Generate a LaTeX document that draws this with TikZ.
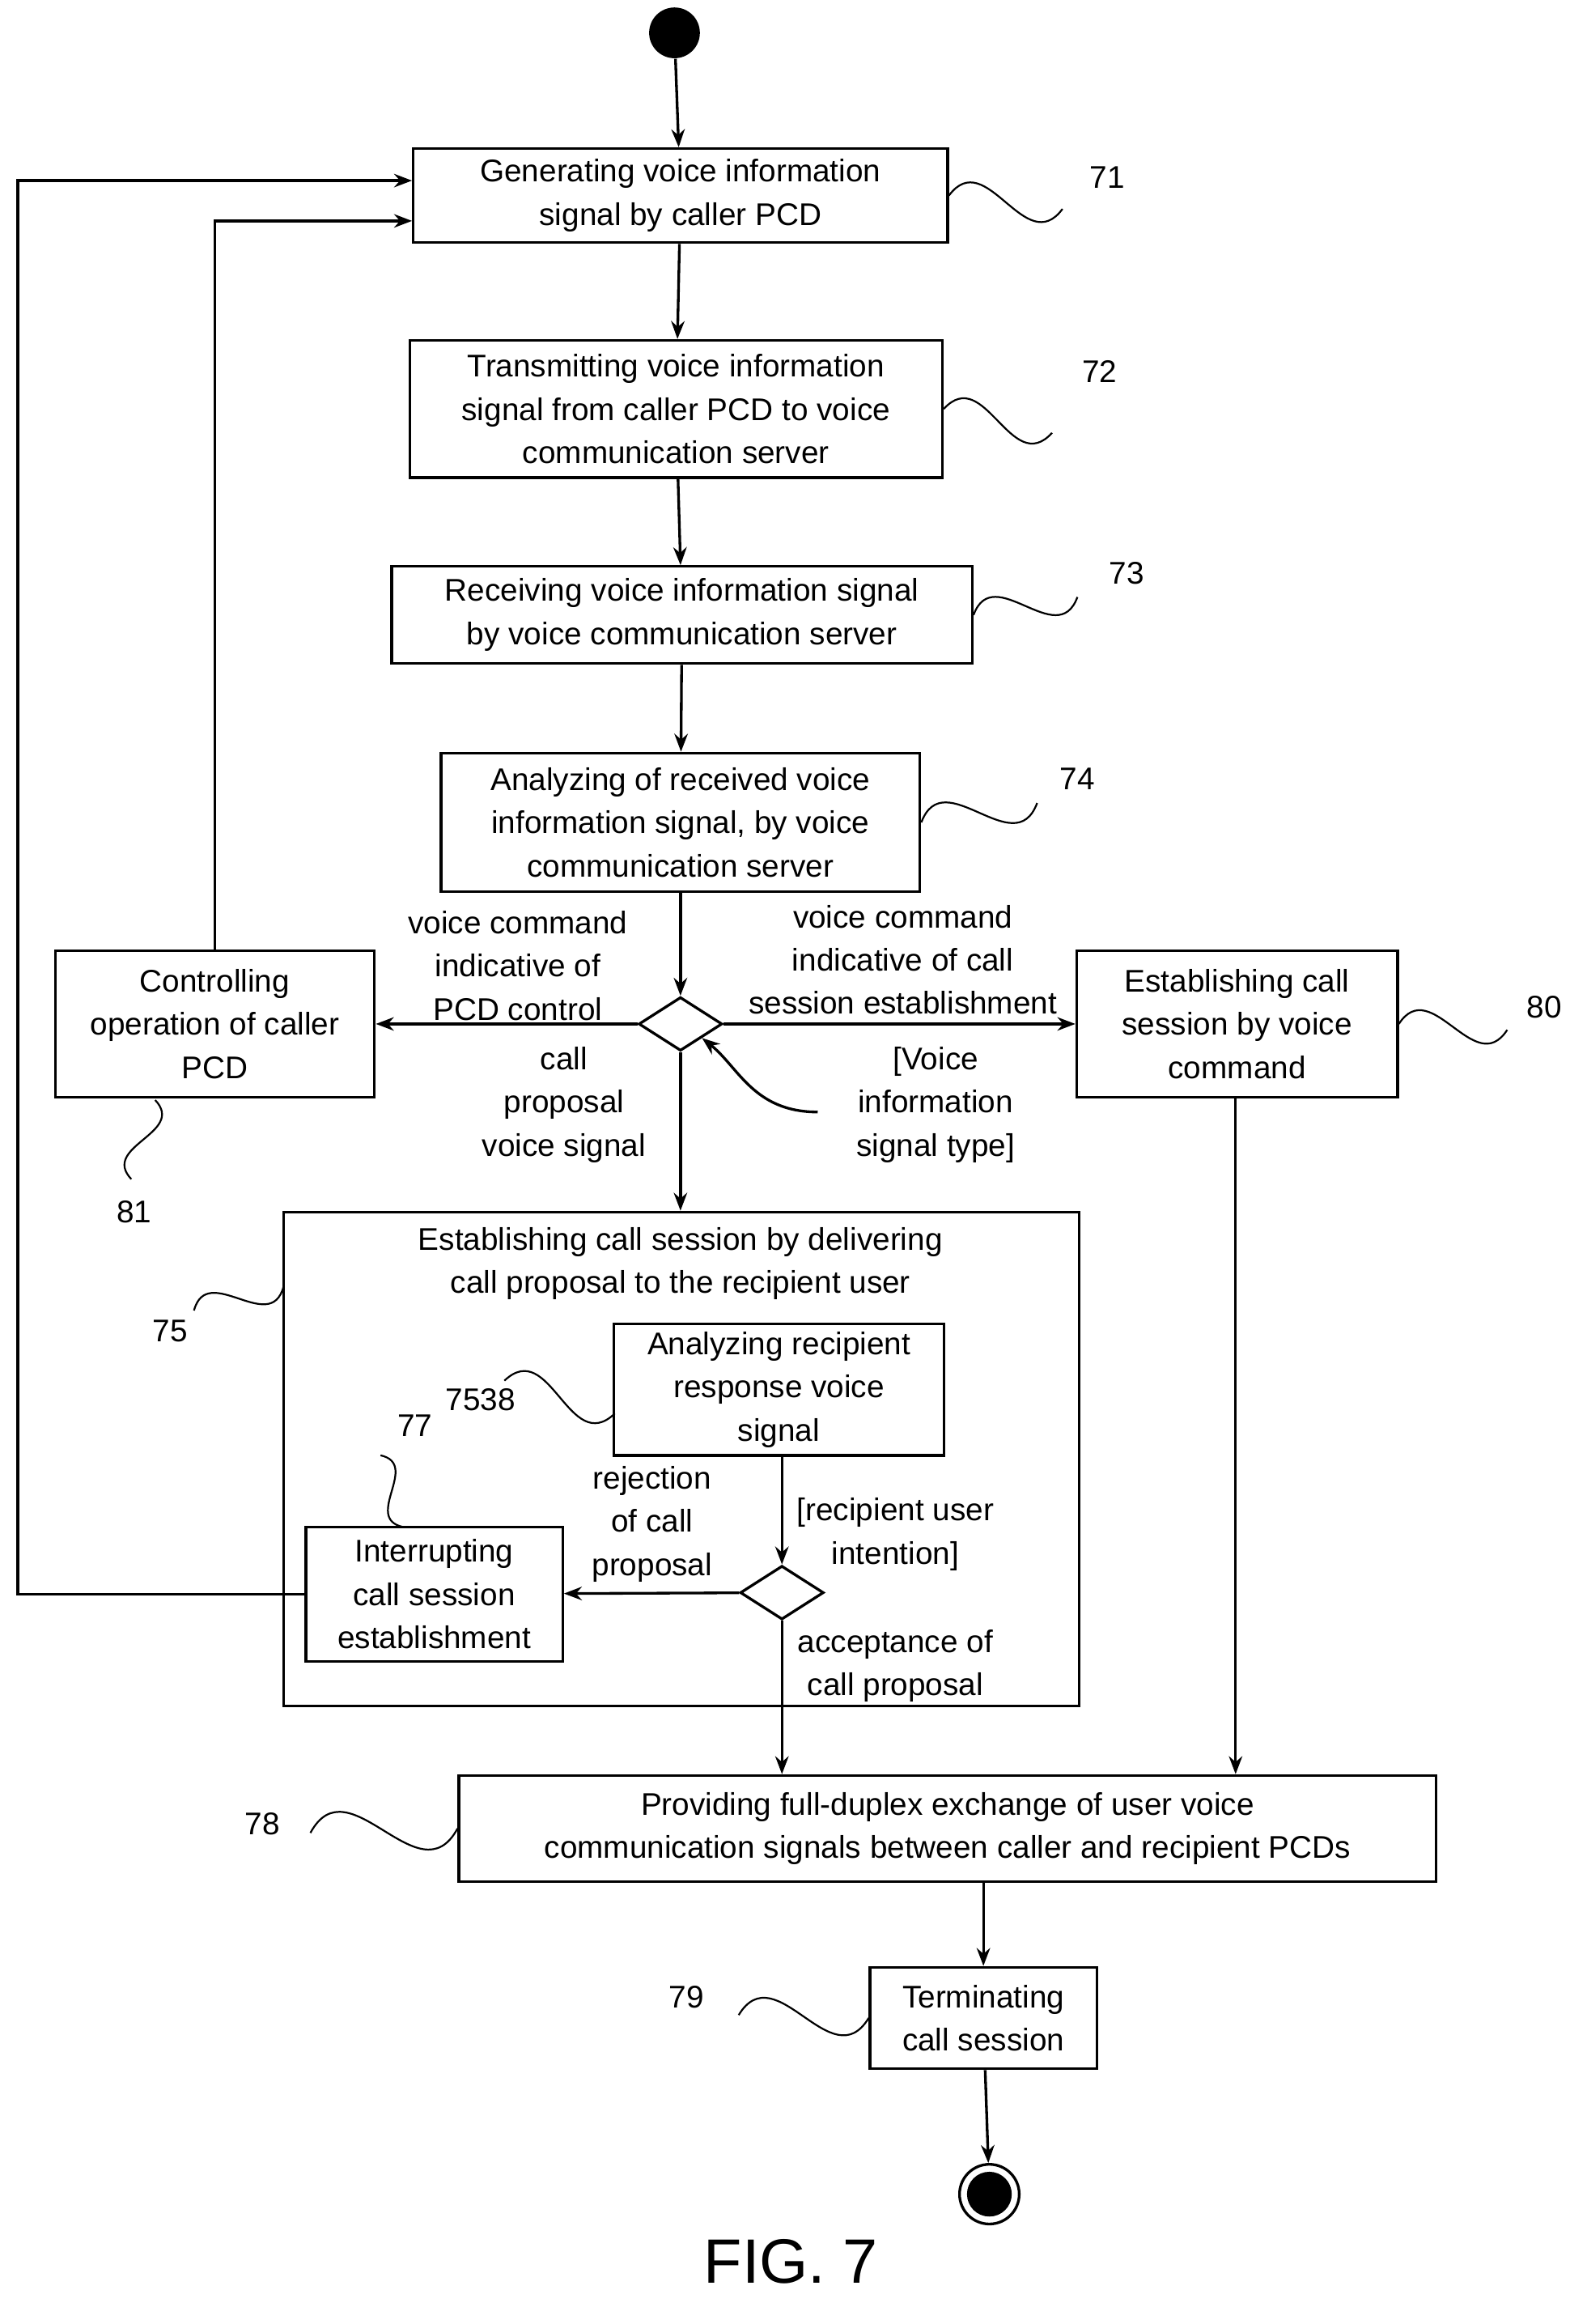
\documentclass[tikz,border=0pt]{standalone}
\usepackage{fontspec}
\setmainfont{Liberation Sans}
\usetikzlibrary{shapes.geometric,arrows.meta,calc}
\begin{document}
\begin{tikzpicture}[x=0.5pt,y=-0.5pt,
  font=\fontsize{10.5pt}{14.5pt}\selectfont,
  box/.style={draw,line width=0.9pt,align=center,inner sep=0pt},
  dia/.style={draw,line width=0.9pt,diamond,inner sep=0pt,minimum width=28pt,minimum height=18pt},
  arr/.style={line width=0.9pt,-{Stealth[length=6pt,width=4.5pt]}},
  ln/.style={line width=0.9pt},
  lab/.style={align=center,inner sep=0pt},
  sq/.style={line width=0.6pt}]
\useasboundingbox (0,0) rectangle (1052,1557);
\node[circle,fill=black,minimum size=17pt,inner sep=0pt] (start) at (452,22) {};
\node[box,minimum width=179pt,minimum height=31.5pt] (n71) at (456,131) {Generating voice information\\signal by caller PCD};
\node[box,minimum width=178.5pt,minimum height=46pt] (n72) at (453,274) {Transmitting voice information\\signal from caller PCD to voice\\communication server};
\node[box,minimum width=194.5pt,minimum height=32.5pt] (n73) at (457,412) {Receiving voice information signal\\by voice communication server};
\node[box,minimum width=160.5pt,minimum height=46.5pt] (n74) at (456,551) {Analyzing of received voice\\information signal, by voice\\communication server};
\node[dia] (d1) at (456,686) {};
\node[box,minimum width=107pt,minimum height=49pt] (n81) at (144,686) {Controlling\\operation of caller\\PCD};
\node[box,minimum width=107.5pt,minimum height=49pt] (n80) at (829,686) {Establishing call\\session by voice\\command};
\node[box,minimum width=266.5pt,minimum height=165.5pt] (n75) at (456.5,977.5) {};
\node[lab,anchor=north] (t75) at (456,822) {Establishing call session by delivering\\call proposal to the recipient user};
\node[box,minimum width=110.5pt,minimum height=44pt] (n7538) at (522,931) {Analyzing recipient\\response voice\\signal};
\node[dia] (d2) at (524,1067) {};
\node[box,minimum width=86pt,minimum height=45pt] (n77) at (291,1068) {Interrupting\\call session\\establishment};
\node[box,minimum width=327.5pt,minimum height=35.5pt] (n78) at (635,1225) {Providing full-duplex exchange of user voice\\communication signals between caller and recipient PCDs};
\node[box,minimum width=76pt,minimum height=34pt] (n79) at (659,1352) {Terminating\\call session};
\node[circle,draw,line width=0.9pt,minimum size=20pt,inner sep=0pt] (end) at (663,1470) {};
\node[circle,fill=black,minimum size=15pt,inner sep=0pt] at (end) {};
\node[lab,font=\fontsize{21pt}{24pt}\selectfont] (fig) at (530,1515) {FIG. 7};

\draw[arr] (start) -- (n71);
\draw[arr] (n71) -- (n72);
\draw[arr] (n72) -- (n73);
\draw[arr] (n73) -- (n74);
\draw[arr] (n74) -- (d1);
\draw[arr] (d1) -- (n81);
\draw[arr] (d1) -- (n80);
\draw[arr] (d1) -- (n75.north -| d1);
\draw[arr] (n81.north) |- ($(n71.west)+(0,17)$);
\draw[arr] (n77.west) -| (12,121) -- ($(n71.west)+(0,-10)$);
\draw[arr] (n7538.south -| d2) -- (d2);
\draw[arr] (d2) -- (n77);
\draw[arr] (d2) -- (n78.north -| d2);
\draw[arr] (n80.south -| 828,0) -- (n78.north -| 828,0);
\draw[arr] (n78.south -| n79) -- (n79);
\draw[arr] (n79) -- (end);

\node[lab] (l1) at (347,647) {voice command\\indicative of\\PCD control};
\node[lab] (l2) at (605,643) {voice command\\indicative of call\\session establishment};
\node[lab] (l3) at (378,740) {call\\proposal\\voice signal};
\node[lab] (l4) at (627,740) {[Voice\\information\\signal type]};
\coordinate (c4) at (548,745);
\draw[arr] (c4) .. controls (505,745) and (495,715) .. (d1.south east);
\node[lab] (l5) at (600,1028) {[recipient user\\intention]};
\node[lab] (l6) at (437,1021) {rejection\\of call\\proposal};
\node[lab] (l7) at (600,1116) {acceptance of\\call proposal};

\newcommand{\squig}[2]{\draw[sq] (#1) .. controls ($(#1)!0.55!60:(#2)$) and ($(#2)!0.55!60:(#1)$) .. (#2);}
\node[lab] (r71) at (742,119) {71};
\coordinate (a71) at (712,140); \squig{n71.east}{a71}
\node[lab] (r72) at (737,249) {72};
\coordinate (a72) at (705,290); \squig{n72.east}{a72}
\node[lab] (r73) at (755,384) {73};
\coordinate (a73) at (722,400); \squig{n73.east}{a73}
\node[lab] (r74) at (722,522) {74};
\coordinate (a74) at (695,538); \squig{n74.east}{a74}
\node[lab] (r80) at (1035,675) {80};
\coordinate (a80) at (1010,690); \squig{n80.east}{a80}
\node[lab] (r81) at (90,812) {81};
\coordinate (b81) at (104,737); \coordinate (a81) at (88,790); \squig{b81}{a81}
\node[lab] (r75) at (114,892) {75};
\coordinate (b75) at (190,862); \coordinate (a75) at (130,878); \squig{b75}{a75}
\node[lab] (r7538) at (322,938) {7538};
\coordinate (b7538) at (412,947); \coordinate (a7538) at (338,925); \squig{b7538}{a7538}
\node[lab] (r77) at (278,955) {77};
\coordinate (b77) at (270,1023); \coordinate (a77) at (255,975); \squig{b77}{a77}
\node[lab] (r78) at (176,1222) {78};
\coordinate (a78) at (208,1228); \squig{n78.west}{a78}
\node[lab] (r79) at (460,1338) {79};
\coordinate (a79) at (495,1350); \squig{n79.west}{a79}
\end{tikzpicture}
\end{document}
